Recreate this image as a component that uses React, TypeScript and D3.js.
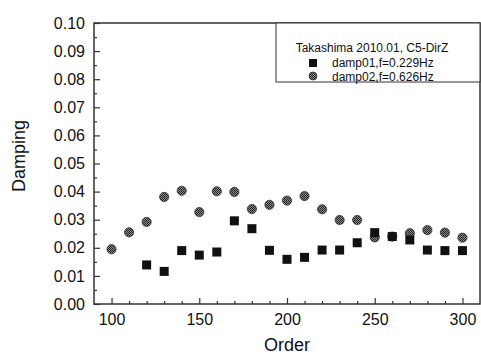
import { useEffect, useRef } from "react";
import * as d3 from "d3";

// order values (x axis)
const orders = [100, 110, 120, 130, 140, 150, 160, 170, 180, 190, 200, 210, 220, 230, 240, 250, 260, 270, 280, 290, 300];

// damp01, f=0.229Hz (squares) – no values at 100, 110
const damp01Orders = [120, 130, 140, 150, 160, 170, 180, 190, 200, 210, 220, 230, 240, 250, 260, 270, 280, 290, 300];
const damp01 = [0.0139, 0.0116, 0.019, 0.0174, 0.0185, 0.0296, 0.0268, 0.0191, 0.0159, 0.0166, 0.0192, 0.0192, 0.0218, 0.0254, 0.024, 0.0228, 0.0192, 0.019, 0.019];

// damp02, f=0.626Hz (hatched circles)
const damp02 = [0.0195, 0.0255, 0.0292, 0.0381, 0.0403, 0.0327, 0.0401, 0.0399, 0.0338, 0.0353, 0.0368, 0.0384, 0.0337, 0.0299, 0.0299, 0.0237, 0.024, 0.0252, 0.0263, 0.0254, 0.0236];

const xMajor = [100, 150, 200, 250, 300];
const yMajor = [0, 0.01, 0.02, 0.03, 0.04, 0.05, 0.06, 0.07, 0.08, 0.09, 0.1];

const legendTitle = "Takashima 2010.01, C5-DirZ";
const legendItems = ["damp01,f=0.229Hz", "damp02,f=0.626Hz"];

const W = 481;
const H = 357;
const margin = { top: 23, right: 1, bottom: 53, left: 94 };
const font = "Arial, 'Liberation Sans', sans-serif";

export default function App() {
  const ref = useRef<SVGSVGElement>(null);

  useEffect(() => {
    const svg = d3.select(ref.current);
    svg.selectAll("*").remove();

    const x = d3.scaleLinear().domain([90, 310]).range([margin.left, W - margin.right]);
    const y = d3.scaleLinear().domain([0, 0.1]).range([H - margin.bottom, margin.top]);

    // hatched fill for the circle markers
    const defs = svg.append("defs");
    const pat = defs
      .append("pattern")
      .attr("id", "hatch")
      .attr("width", 2)
      .attr("height", 2)
      .attr("patternUnits", "userSpaceOnUse");
    pat.append("rect").attr("width", 2).attr("height", 2).attr("fill", "#8a8a8a");
    pat.append("rect").attr("width", 1).attr("height", 1).attr("fill", "#222");
    pat.append("rect").attr("x", 1).attr("y", 1).attr("width", 1).attr("height", 1).attr("fill", "#222");

    const axisColor = "#333";

    // frame
    svg
      .append("rect")
      .attr("x", x(90))
      .attr("y", y(0.1))
      .attr("width", x(310) - x(90))
      .attr("height", y(0) - y(0.1))
      .attr("fill", "none")
      .attr("stroke", axisColor)
      .attr("stroke-width", 1.5);

    // x axis (ticks inward)
    const gx = svg
      .append("g")
      .attr("transform", `translate(0,${y(0)})`)
      .call(
        d3
          .axisBottom(x)
          .tickValues(orders.filter((o) => !xMajor.includes(o)))
          .tickSize(-3)
          .tickFormat(() => ""),
      );
    gx.select(".domain").remove();
    const gx2 = svg
      .append("g")
      .attr("transform", `translate(0,${y(0)})`)
      .call(
        d3
          .axisBottom(x)
          .tickValues(xMajor)
          .tickSize(-6)
          .tickPadding(10)
          .tickFormat((d) => `${d}`),
      );
    gx2.select(".domain").remove();
    gx2.selectAll("text").attr("font-family", font).attr("font-size", 16).attr("fill", "#111");

    // y axis (ticks inward)
    const gy = svg
      .append("g")
      .attr("transform", `translate(${x(90)},0)`)
      .call(
        d3
          .axisLeft(y)
          .tickValues(yMajor.slice(0, -1).map((v) => v + 0.005))
          .tickSize(-3)
          .tickFormat(() => ""),
      );
    gy.select(".domain").remove();
    const gy2 = svg
      .append("g")
      .attr("transform", `translate(${x(90)},0)`)
      .call(
        d3
          .axisLeft(y)
          .tickValues(yMajor)
          .tickSize(-6)
          .tickPadding(9)
          .tickFormat(d3.format(".2f")),
      );
    gy2.select(".domain").remove();
    gy2.selectAll("text").attr("font-family", font).attr("font-size", 16).attr("fill", "#111");
    svg.selectAll(".tick line").attr("stroke", axisColor).attr("stroke-width", 1.2);

    // axis titles
    svg
      .append("text")
      .attr("x", 287)
      .attr("y", 351)
      .attr("text-anchor", "middle")
      .attr("font-family", font)
      .attr("font-size", 18)
      .attr("fill", "#111")
      .text("Order");
    svg
      .append("text")
      .attr("transform", `translate(25,156) rotate(-90)`)
      .attr("text-anchor", "middle")
      .attr("font-family", font)
      .attr("font-size", 18)
      .attr("fill", "#111")
      .text("Damping");

    // damp02 circles
    svg
      .append("g")
      .selectAll("circle")
      .data(orders.map((o, i) => [o, damp02[i]] as [number, number]))
      .join("circle")
      .attr("cx", (d) => x(d[0]))
      .attr("cy", (d) => y(d[1]))
      .attr("r", 4.6)
      .attr("fill", "url(#hatch)")
      .attr("stroke", "#333")
      .attr("stroke-width", 0.8);

    // damp01 squares
    const s = 9;
    svg
      .append("g")
      .selectAll("rect")
      .data(damp01Orders.map((o, i) => [o, damp01[i]] as [number, number]))
      .join("rect")
      .attr("x", (d) => x(d[0]) - s / 2)
      .attr("y", (d) => y(d[1]) - s / 2)
      .attr("width", s)
      .attr("height", s)
      .attr("fill", "#111");

    // legend
    const lg = svg.append("g");
    lg.append("rect")
      .attr("x", 276)
      .attr("y", y(0.1))
      .attr("width", x(310) - 276)
      .attr("height", 59)
      .attr("fill", "#fff")
      .attr("stroke", axisColor)
      .attr("stroke-width", 1);
    lg.append("text")
      .attr("x", 372)
      .attr("y", 52)
      .attr("text-anchor", "middle")
      .attr("font-family", font)
      .attr("font-size", 12)
      .attr("fill", "#111")
      .text(legendTitle);
    lg.append("rect").attr("x", 309).attr("y", 59).attr("width", 8).attr("height", 8).attr("fill", "#111");
    lg.append("circle")
      .attr("cx", 313)
      .attr("cy", 76)
      .attr("r", 4)
      .attr("fill", "url(#hatch)")
      .attr("stroke", "#333")
      .attr("stroke-width", 0.8);
    legendItems.forEach((t, i) => {
      lg.append("text")
        .attr("x", 332)
        .attr("y", 67 + i * 13.5)
        .attr("font-family", font)
        .attr("font-size", 12)
        .attr("fill", "#111")
        .text(t);
    });
  }, []);

  return (
    <svg
      ref={ref}
      width={W}
      height={H}
      style={{ position: "absolute", left: 0, top: 0, background: "#fff" }}
    />
  );
}
